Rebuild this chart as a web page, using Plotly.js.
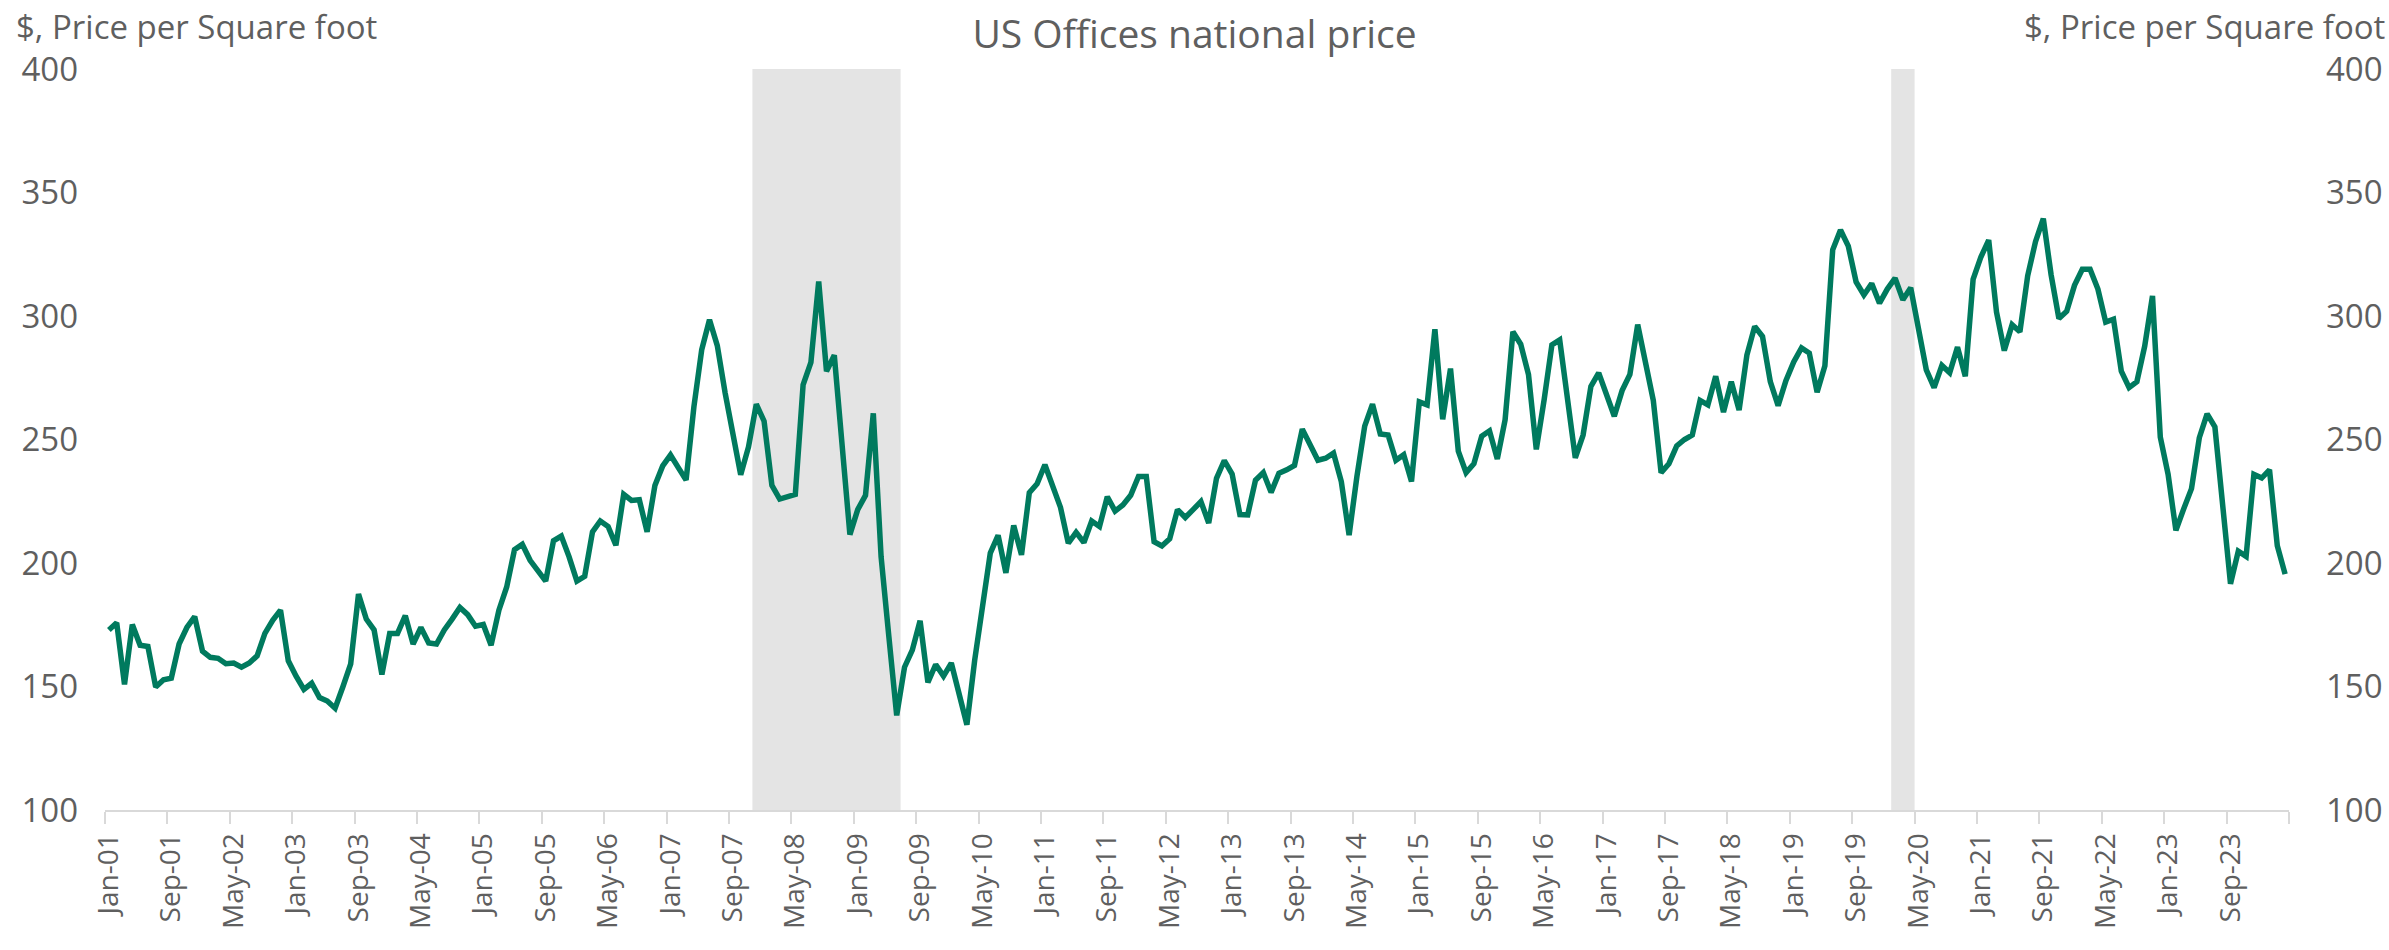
<!DOCTYPE html>
<html><head><meta charset="utf-8">
<script src="https://cdn.plot.ly/plotly-3.0.1.min.js"></script>
<style>html,body{margin:0;padding:0;background:#fff}#chart{width:2389px;height:950px}</style>
</head><body><div id="chart"></div>
<script>
// Monthly categories Jan-01 .. Apr-24
const MONTH_NAMES = ['Jan','Feb','Mar','Apr','May','Jun','Jul','Aug','Sep','Oct','Nov','Dec'];
const categories = [];
for (let y = 2001; y <= 2024; y++) {
  for (let m = 0; m < 12; m++) {
    if (y === 2024 && m > 3) break;
    categories.push(MONTH_NAMES[m] + '-' + String(y % 100).padStart(2, '0'));
  }
}

// US Offices national price, $ per square foot
const price = [
172.9,175.8,150.9,175.1,166.7,166.2,149.8,152.7,153.4,167.2,173.9,178.3,
164.3,161.8,161.4,159.2,159.5,157.8,159.5,162.4,171.5,176.8,180.9,160.4,
154.2,148.8,151.3,145.5,144.1,141.2,149.9,159.2,187.4,177.3,172.9,154.9,
171.5,171.5,178.7,167.2,173.9,167.6,167.2,172.9,177.3,182.0,179.1,174.4,
175.1,166.7,180.9,190.3,205.4,207.6,201.1,196.5,192.7,209.0,210.9,202.5,
192.7,194.6,212.6,217.0,214.8,207.2,227.8,225.3,225.6,212.6,231.4,239.3,
243.7,238.6,233.6,263.2,286.3,298.5,288.0,268.9,250.9,235.7,247.0,264.3,
257.4,231.4,225.9,227.1,227.8,272.1,281.2,314.0,277.6,284.1,247.3,211.5,
221.6,227.4,260.6,202.5,170.0,138.3,157.8,164.7,176.6,151.7,158.9,154.2,
159.5,146.2,134.5,160.7,183.0,204.0,211.2,196.0,215.2,203.3,228.5,232.1,
239.8,230.7,222.5,208.0,212.4,208.3,217.0,214.8,226.8,221.0,223.5,227.4,
235.0,235.0,208.6,206.9,209.8,221.6,218.4,221.6,224.9,216.2,234.3,241.5,
236.0,219.6,219.5,233.5,236.6,228.6,236.3,237.7,239.5,254.2,248.4,241.6,
242.4,244.5,233.0,211.3,235.0,255.4,264.3,252.2,251.8,241.6,243.8,233.0,
265.2,264.0,294.6,258.2,278.7,245.3,236.6,240.2,251.3,253.5,242.1,258.0,
293.6,288.6,276.3,246.0,266.0,288.3,290.3,266.9,242.6,251.8,271.5,277.0,
268.4,259.4,269.8,276.3,296.5,281.4,265.8,236.6,240.2,247.4,250.0,251.8,
265.8,264.0,275.6,261.1,273.4,261.9,284.2,295.8,291.7,273.4,263.7,273.8,
281.4,287.1,285.0,269.1,279.9,326.8,334.8,328.3,313.8,308.5,313.1,305.2,
310.9,315.3,306.6,311.4,295.1,278.2,271.0,280.0,277.0,287.4,275.6,314.8,
323.9,330.7,301.6,286.0,296.5,293.6,316.3,330.1,339.4,316.7,299.0,301.9,
312.4,318.9,318.9,310.9,297.5,298.7,277.7,271.0,273.4,287.8,308.1,251.0,
235.9,213.2,221.9,230.1,250.7,260.4,255.1,223.3,191.6,204.8,202.7,235.9,
234.4,237.7,207.0,195.5
];

// US recession periods (shaded)
const recessionStart = ['Dec-07', 'Feb-20'];
const recessionEnd   = ['Jun-09', 'Apr-20'];

const yTicks = [100, 150, 200, 250, 300, 350, 400];
const labelEvery = 8;

const xIdx = categories.map((c, i) => i);
const tickIdx = xIdx.filter(i => i % labelEvery === 0);
const tickText = tickIdx.map(i => categories[i]);
const boundaries = [];
for (let b = -0.5; b <= categories.length - 0.5 + 1e-9; b += labelEvery) boundaries.push(b);

const FONT = 'Open Sans, Segoe UI, sans-serif';
const GREY = '#5F5F5F';
const LINE = '#007A5E';

const shapes = recessionStart.map((s, k) => ({
  type: 'rect', xref: 'x', yref: 'paper',
  x0: categories.indexOf(s) - 0.5, x1: categories.indexOf(recessionEnd[k]) + 0.5,
  y0: 0, y1: 1, fillcolor: '#E4E4E4', line: {width: 0}, layer: 'below'
}));

const traces = [
  {x: xIdx, y: price, type: 'scatter', mode: 'lines',
   line: {color: LINE, width: 5.5}, hoverinfo: 'skip', showlegend: false},
  {x: xIdx, y: price, type: 'scatter', mode: 'lines', yaxis: 'y2',
   line: {color: LINE, width: 0}, opacity: 0, hoverinfo: 'skip', showlegend: false}
];

const W = 2389, H = 950;
const M = {l: 105, r: 100, t: 69, b: 140};
const pw = W - M.l - M.r, ph = H - M.t - M.b;
const px2x = px => (px - M.l) / pw;
const py2y = py => (H - M.b - py) / ph;

const layout = {
  width: W, height: H,
  margin: M,
  paper_bgcolor: '#fff', plot_bgcolor: 'rgba(0,0,0,0)',
  showlegend: false,
  title: {text: 'US Offices national price', x: 0.5, xref: 'container', xanchor: 'center',
          y: 1 - 34 / H, yref: 'container', yanchor: 'middle',
          font: {family: FONT, size: 39, color: GREY}},
  xaxis: {
    range: [-0.5, categories.length - 0.5],
    tickmode: 'array', tickvals: tickIdx, ticktext: tickText,
    tickangle: -90, ticks: '', showgrid: false, zeroline: false,
    showline: true, linecolor: '#D9D9D9', linewidth: 2,
    tickfont: {family: FONT, size: 28, color: GREY},
    ticklabelstandoff: 10,
    minor: {tickmode: 'array', tickvals: boundaries, ticks: 'outside',
            ticklen: 12, tickwidth: 2, tickcolor: '#D9D9D9', showgrid: false},
    fixedrange: true
  },
  yaxis: {
    range: [100, 400], tickmode: 'array', tickvals: yTicks,
    ticks: '', showgrid: false, zeroline: false, showline: false,
    tickfont: {family: FONT, size: 33, color: GREY},
    ticklabelstandoff: 26, fixedrange: true
  },
  yaxis2: {
    range: [100, 400], tickmode: 'array', tickvals: yTicks,
    overlaying: 'y', side: 'right',
    ticks: '', showgrid: false, zeroline: false, showline: false,
    tickfont: {family: FONT, size: 33, color: GREY},
    ticklabelstandoff: 36, fixedrange: true
  },
  shapes: shapes,
  annotations: [
    {text: '$, Price per Square foot', xref: 'paper', yref: 'paper',
     x: px2x(14), y: py2y(26), xanchor: 'left', yanchor: 'middle', showarrow: false,
     font: {family: FONT, size: 33, color: GREY}},
    {text: '$, Price per Square foot', xref: 'paper', yref: 'paper',
     x: px2x(2387), y: py2y(26), xanchor: 'right', yanchor: 'middle', showarrow: false,
     font: {family: FONT, size: 33, color: GREY}}
  ]
};

Plotly.newPlot('chart', traces, layout, {staticPlot: true, displayModeBar: false});
</script>
</body></html>
